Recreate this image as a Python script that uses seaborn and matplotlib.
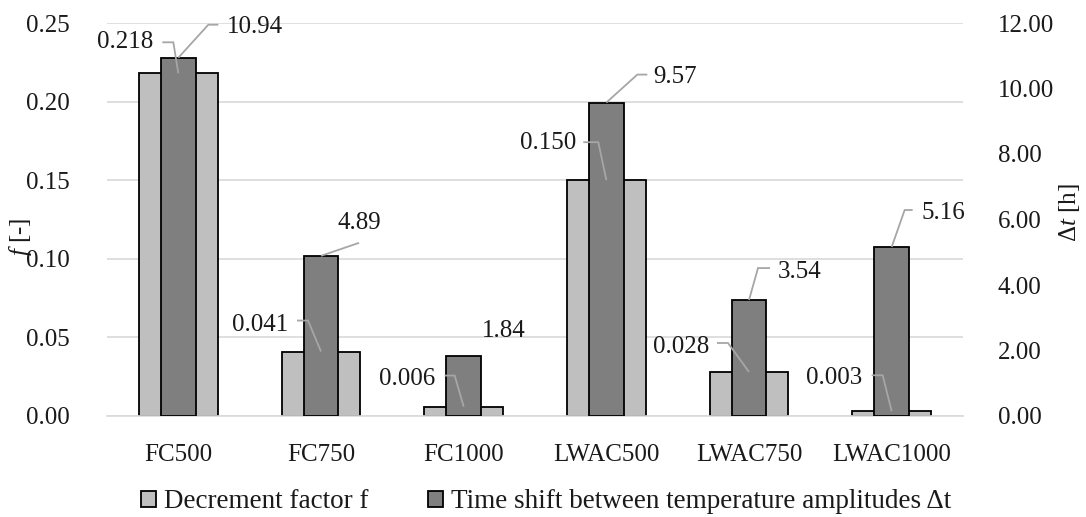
import matplotlib
matplotlib.use("Agg")
import matplotlib.pyplot as plt
import seaborn as sns
import pandas as pd
from matplotlib.patches import Patch

# ---- data ----
categories = ["FC500", "FC750", "FC1000", "LWAC500", "LWAC750", "LWAC1000"]
decrement_f = [0.218, 0.041, 0.006, 0.150, 0.028, 0.003]
time_shift = [10.94, 4.89, 1.84, 9.57, 3.54, 5.16]
f_labels = ["0.218", "0.041", "0.006", "0.150", "0.028", "0.003"]
t_labels = ["10.94", "4.89", "1.84", "9.57", "3.54", "5.16"]
left_ticks = [0.00, 0.05, 0.10, 0.15, 0.20, 0.25]
right_ticks = [0, 2, 4, 6, 8, 10, 12]

# ---- label placement (pixels relative to bar top) ----
f_text_off = [(-25, 31), (-33, 27), (-28, 28), (-30, 37), (-40, 25), (-29, 33)]
f_leader = [[(-5, 31), (-16, 31)], [(-13, 31), (-24, 31)], [(-9, 31), (-19, 31)],
            [(-8, 38), (-23, 38)], [(-21, 29), (-32, 29)], [(-9, 36), (-20, 36)]]
t_text_off = [(49, 31), (17, 33), (18, 25), (47, 26), (29, 28), (30, 34)]
t_leader = [[(30, 33), (40, 33)], [(38, 13)], [], [(31, 28), (41, 28)],
            [(9, 32), (21, 32)], [(13, 37), (21, 37)]]

sns.set_theme(style="white")
plt.rcParams["font.family"] = ["Liberation Serif", "DejaVu Serif"]
plt.rcParams["mathtext.fontset"] = "custom"
plt.rcParams["mathtext.rm"] = "Liberation Serif"
plt.rcParams["mathtext.it"] = "Liberation Serif:italic"

FS = 18
LFS = 19.5
TXT = "#1a1a1a"
GRID = "#d9d9d9"
LEAD = "#a6a6a6"

W, H = 1086, 517
fig = plt.figure(figsize=(W / 100, H / 100), dpi=100)
ax = fig.add_axes([107 / W, (H - 416) / H, 856 / W, 393 / H])
ax2 = ax.twinx()

df = pd.DataFrame({"cat": categories, "f": decrement_f, "t": time_shift})

sns.barplot(data=df, x="cat", y="f", order=categories, ax=ax, color="#bfbfbf",
            saturation=1, width=0.55, edgecolor="black", linewidth=1.3, zorder=2)
sns.barplot(data=df, x="cat", y="t", order=categories, ax=ax2, color="#7f7f7f",
            saturation=1, width=0.245, edgecolor="black", linewidth=1.3, zorder=2)

ax.set_xlim(-0.5, len(categories) - 0.5)
ax.set_ylim(0, 0.25)
ax2.set_ylim(0, 12)
ax.set_yticks(left_ticks)
ax.set_yticklabels([f"{v:.2f}" for v in left_ticks])
ax2.set_yticks(right_ticks)
ax2.set_yticklabels([f"{v:.2f}" for v in right_ticks])

ax.yaxis.grid(True, color=GRID, linewidth=1.2)
ax.set_axisbelow(True)
for a in (ax, ax2):
    for s in a.spines.values():
        s.set_visible(False)
ax.spines["bottom"].set_visible(True)
ax.spines["bottom"].set_color(GRID)
ax.spines["bottom"].set_linewidth(1.2)

ax.tick_params(axis="y", length=0, pad=27, labelsize=FS, labelcolor=TXT)
ax2.tick_params(axis="y", length=0, pad=25, labelsize=FS, labelcolor=TXT)
ax.tick_params(axis="x", length=0, pad=20, labelsize=FS, labelcolor=TXT)
ax.set_xlabel("")
ax2.set_xlabel("")
ax.set_ylabel("")
ax2.set_ylabel("")

fig.text(20 / W, 1 - 237 / H, r"$f$ [-]", fontsize=FS, color=TXT, rotation=90,
         ha="center", va="center")
fig.text(1070 / W, 1 - 213 / H, r"$\Delta t$ [h]", fontsize=FS, color=TXT,
         rotation=90, ha="center", va="center")


def leader(base_disp, pts):
    disp = [(base_disp[0] + dx, base_disp[1] + dy) for dx, dy in pts]
    d = ax2.transData.inverted().transform(disp)
    ax2.plot(d[:, 0], d[:, 1], color=LEAD, lw=1.3, zorder=4,
             solid_capstyle="butt", solid_joinstyle="miter")


for i in range(len(categories)):
    # decrement factor labels
    ax2.annotate(f_labels[i], xy=(i, decrement_f[i]), xycoords=ax.transData,
                 xytext=f_text_off[i], textcoords="offset pixels",
                 ha="right", va="center", fontsize=FS, color=TXT, zorder=5)
    leader(ax.transData.transform((i, decrement_f[i])), [(0, 0)] + f_leader[i])

    # time-shift labels
    ax2.annotate(t_labels[i], xy=(i, time_shift[i]), xycoords="data",
                 xytext=t_text_off[i], textcoords="offset pixels",
                 ha="left", va="center", fontsize=FS, color=TXT, zorder=5)
    if t_leader[i]:
        leader(ax2.transData.transform((i, time_shift[i])), [(0, 0)] + t_leader[i])

ax2.set_ylim(0, 12)
ax.set_xlim(-0.5, len(categories) - 0.5)

handles = [Patch(facecolor="#bfbfbf", edgecolor="black", linewidth=1.3),
           Patch(facecolor="#7f7f7f", edgecolor="black", linewidth=1.3)]
labels = ["Decrement factor f", "Time shift between temperature amplitudes \u0394t"]
leg = fig.legend(handles, labels, loc="center", bbox_to_anchor=(546 / W, 15 / H),
                 ncol=2, frameon=False, fontsize=LFS, handlelength=0.55,
                 handleheight=0.55, handletextpad=0.3, columnspacing=2.2,
                 borderaxespad=0, borderpad=0)
for t in leg.get_texts():
    t.set_color(TXT)

fig.savefig("out.png", dpi=100)
